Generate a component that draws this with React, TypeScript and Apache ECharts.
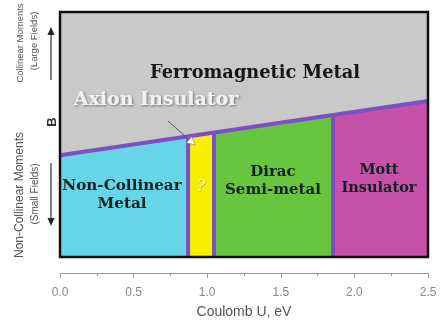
import React, { useEffect, useRef } from "react";
import * as echarts from "echarts";

// Coulomb U axis
const uMin = 0;
const uMax = 2.5;
const uTickStep = 0.5;

// Phase boundary between collinear (top) and non-collinear (bottom) regimes
const boundaryU = [0, 2.5];
const boundaryB = [0.415, 0.637];

// Phase edges along U for the low-field phases
const phaseEdges = [0, 0.87, 1.046, 1.855, 2.5];
const phaseNames = ["Non-Collinear Metal", "?", "Dirac Semi-metal", "Mott Insulator"];

const phaseColors = ["#66d5e8", "#f6ef00", "#68c63e", "#c651a9"];
const topColor = "#c9c9c9";
const boundaryColor = "#7a50c4";

function boundaryAt(u: number): number {
  const t = (u - boundaryU[0]) / (boundaryU[1] - boundaryU[0]);
  return boundaryB[0] + t * (boundaryB[1] - boundaryB[0]);
}

export default function App() {
  const ref = useRef<HTMLDivElement>(null);

  useEffect(() => {
    if (!ref.current) return;
    const chart = echarts.init(ref.current, null, { renderer: "svg" });

    const phaseData = phaseNames.map((name, i) => ({
      name,
      value: [phaseEdges[i], phaseEdges[i + 1]],
    }));
    const separators = phaseEdges.slice(1, -1).map((u) => [u]);

    const serif = "DejaVu Serif";
    const sans = "Liberation Sans";

    const arrowUp = (x: number, y0: number, y1: number) => [
      { type: "line", z: 100, shape: { x1: x, y1: y0, x2: x, y2: y1 + 6 }, style: { stroke: "#333", lineWidth: 1.2 } },
      { type: "polygon", z: 100, shape: { points: [[x, y1], [x - 3.5, y1 + 8], [x + 3.5, y1 + 8]] }, style: { fill: "#222" } },
    ];
    const arrowDown = (x: number, y0: number, y1: number) => [
      { type: "line", z: 100, shape: { x1: x, y1: y0, x2: x, y2: y1 - 6 }, style: { stroke: "#333", lineWidth: 1.2 } },
      { type: "polygon", z: 100, shape: { points: [[x, y1], [x - 3.5, y1 - 8], [x + 3.5, y1 - 8]] }, style: { fill: "#222" } },
    ];

    const vText = (text: string, x: number, y: number, size: number, color: string, weight = "normal") => ({
      type: "text",
      z: 100,
      x,
      y,
      rotation: Math.PI / 2,
      style: {
        text,
        fontFamily: sans,
        fontSize: size,
        fontWeight: weight,
        fill: color,
        align: "center",
        verticalAlign: "middle",
      },
    });

    const label = (text: string, x: number, y: number, size: number) => ({
      type: "text",
      z: 100,
      x,
      y,
      style: {
        text,
        fontFamily: serif,
        fontWeight: "bold",
        fontSize: size,
        lineHeight: 18,
        fill: "#112020",
        align: "center",
        verticalAlign: "middle",
      },
    });

    // pointer from the Axion Insulator label to its strip
    const tip = [195, 145];
    const from = [168, 121];
    const dx = tip[0] - from[0];
    const dy = tip[1] - from[1];
    const len = Math.hypot(dx, dy);
    const ux = dx / len;
    const uy = dy / len;
    const bx = tip[0] - 8 * ux;
    const by = tip[1] - 8 * uy;

    chart.setOption({
      animation: false,
      grid: { left: 60, top: 12, width: 368, height: 245, outerBoundsMode: "none" },
      xAxis: {
        type: "value",
        min: uMin,
        max: uMax,
        interval: uTickStep,
        offset: 16,
        axisLine: { show: true, onZero: false, lineStyle: { color: "#999", width: 1 } },
        axisTick: { show: true, length: 5, lineStyle: { color: "#999" } },
        minorTick: { show: true, splitNumber: 2, length: 3, lineStyle: { color: "#999" } },
        splitLine: { show: false },
        axisLabel: {
          formatter: (v: number) => v.toFixed(1),
          color: "#888",
          fontFamily: sans,
          fontSize: 12,
          margin: 13,
        },
        name: "Coulomb U, eV",
        nameLocation: "middle",
        nameGap: 31,
        nameTextStyle: { color: "#555", fontFamily: sans, fontSize: 14 },
      },
      yAxis: { type: "value", min: 0, max: 1, show: false },
      series: [
        {
          type: "custom",
          z: 1,
          data: [[uMin, uMax]],
          renderItem: (params: any, api: any) => {
            const u0 = api.value(0);
            const u1 = api.value(1);
            return {
              type: "polygon",
              shape: {
                points: [
                  api.coord([u0, 1]),
                  api.coord([u1, 1]),
                  api.coord([u1, boundaryAt(u1)]),
                  api.coord([u0, boundaryAt(u0)]),
                ],
              },
              style: { fill: topColor },
            };
          },
        },
        {
          type: "custom",
          z: 2,
          data: phaseData,
          renderItem: (params: any, api: any) => {
            const u0 = api.value(0);
            const u1 = api.value(1);
            return {
              type: "polygon",
              shape: {
                points: [
                  api.coord([u0, 0]),
                  api.coord([u1, 0]),
                  api.coord([u1, boundaryAt(u1)]),
                  api.coord([u0, boundaryAt(u0)]),
                ],
              },
              style: { fill: phaseColors[params.dataIndex] },
            };
          },
        },
        {
          type: "custom",
          z: 3,
          data: separators,
          renderItem: (params: any, api: any) => {
            const u = api.value(0);
            const p0 = api.coord([u, 0]);
            const p1 = api.coord([u, boundaryAt(u)]);
            return {
              type: "line",
              shape: { x1: p0[0], y1: p0[1], x2: p1[0], y2: p1[1] },
              style: { stroke: boundaryColor, lineWidth: 4 },
            };
          },
        },
        {
          type: "line",
          z: 4,
          symbol: "none",
          data: boundaryU.map((u, i) => [u, boundaryB[i]]),
          lineStyle: { color: boundaryColor, width: 4 },
        },
        {
          type: "custom",
          z: 5,
          data: [[0]],
          renderItem: (params: any) => {
            const cs = params.coordSys;
            return {
              type: "rect",
              shape: { x: cs.x, y: cs.y, width: cs.width, height: cs.height },
              style: { fill: "none", stroke: "#111", lineWidth: 2.5 },
            };
          },
        },
      ],
      graphic: [
        {
          type: "text",
          z: 100,
          x: 255,
          y: 71,
          style: {
            text: "Ferromagnetic Metal",
            fontFamily: serif,
            fontWeight: "bold",
            fontSize: 17.8,
            fill: "#151515",
            align: "center",
            verticalAlign: "middle",
          },
        },
        {
          type: "text",
          z: 100,
          x: 156,
          y: 98,
          style: {
            text: "Axion Insulator",
            fontFamily: serif,
            fontWeight: "bold",
            fontSize: 19,
            fill: "#f2f2f2",
            align: "center",
            verticalAlign: "middle",
            textShadowColor: "rgba(0,0,0,0.45)",
            textShadowBlur: 2,
            textShadowOffsetX: 1,
            textShadowOffsetY: 1,
          },
        },
        {
          type: "line",
          z: 100,
          shape: { x1: from[0], y1: from[1], x2: bx, y2: by },
          style: { stroke: "#555", lineWidth: 1 },
        },
        {
          type: "polygon",
          z: 100,
          shape: {
            points: [
              tip,
              [bx - 4 * uy, by + 4 * ux],
              [bx + 4 * uy, by - 4 * ux],
            ],
          },
          style: { fill: "#ffffff", stroke: "#777", lineWidth: 0.6 },
        },
        label("Non-Collinear\nMetal", 122, 194, 15.2),
        {
          type: "text",
          z: 100,
          x: 201,
          y: 185,
          style: {
            text: phaseNames[1],
            fontFamily: serif,
            fontStyle: "italic",
            fontSize: 16,
            fill: "#fbf7c4",
            align: "center",
            verticalAlign: "middle",
            textShadowColor: "rgba(90,90,0,0.55)",
            textShadowBlur: 1,
            textShadowOffsetX: 0.5,
            textShadowOffsetY: 0.5,
          },
        },
        label("Dirac\nSemi-metal", 273, 180, 15),
        label("Mott\nInsulator", 379, 177, 14.5),
        vText("Collinear Moments", 19, 43, 9.5, "#555"),
        vText("(Large Fields)", 33, 41, 9.5, "#555"),
        vText("B", 51, 122, 13, "#333", "bold"),
        vText("Non-Collinear Moments", 19, 195, 12, "#555"),
        vText("(Small Fields)", 34, 194, 10, "#555"),
        ...arrowUp(51, 80, 27),
        ...arrowDown(51, 163, 226),
      ],
    });

    return () => chart.dispose();
  }, []);

  return (
    <div
      ref={ref}
      style={{ position: "fixed", left: 0, top: 0, width: 441, height: 321 }}
    />
  );
}
